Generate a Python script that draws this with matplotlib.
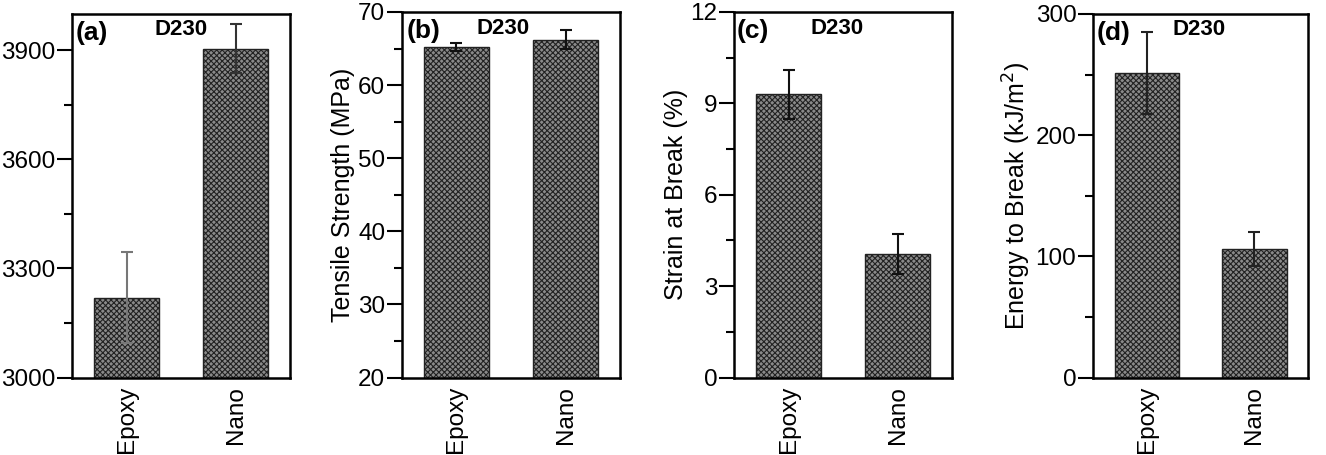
import matplotlib
matplotlib.use("Agg")
import matplotlib.pyplot as plt
from matplotlib.ticker import MultipleLocator

plt.rcParams['font.family'] = ['Liberation Sans', 'DejaVu Sans']
plt.rcParams['hatch.color'] = '#2a2a2a'
plt.rcParams['hatch.linewidth'] = 0.8

categories = ['Epoxy', 'Nano']

modulus = [3220, 3905]
modulus_err = [125, 67]

strength = [65.2, 66.2]
strength_err = [0.6, 1.3]

strain = [9.3, 4.05]
strain_err = [0.8, 0.65]

energy = [251.5, 105.8]
energy_err = [34, 14]

panel_labels = ['(a)', '(b)', '(c)', '(d)']
series_name = 'D230'
ylabels = ['', 'Tensile Strength (MPa)', 'Strain at Break (%)', 'Energy to Break (kJ/m$^2$)']

W, H = 1326, 455
fig = plt.figure(figsize=(W / 100, H / 100), dpi=100)

# (left, right, top, bottom) in pixels
boxes = [(72, 290, 14, 377.5), (402, 620, 12, 377.5), (734, 952, 12, 377.5), (1093, 1308, 14, 377.5)]
ylims = [(3000, 4000), (20, 70), (0, 12), (0, 300)]
majors = [300, 10, 3, 100]
minors = [150, 5, 1.5, 50]
data = [(modulus, modulus_err), (strength, strength_err), (strain, strain_err), (energy, energy_err)]
label_x = [0.018, 0.023, 0.014, 0.019]
name_x = [0.38, 0.344, 0.35, 0.37]
err_colors = [['#777777', '#333333'], ['#111111', '#111111'], ['#111111', '#111111'], ['#222222', '#222222']]

for i in range(4):
    l, r, t, b = boxes[i]
    ax = fig.add_axes([l / W, 1 - b / H, (r - l) / W, (b - t) / H])
    vals, errs = data[i]
    x = range(len(categories))
    ax.bar(x, vals, width=0.6, bottom=0, color='#8a8a8a', edgecolor='#222222',
           linewidth=1.0, hatch='xxxxxx', zorder=2)
    for j in range(len(categories)):
        ax.errorbar(j, vals[j], yerr=errs[j], fmt='none', ecolor=err_colors[i][j],
                    elinewidth=1.5, capsize=4.3, capthick=1.5, zorder=3)
    ax.set_xlim(-0.5, 1.5)
    ax.set_ylim(*ylims[i])
    ax.set_xticks(list(x))
    ax.set_xticklabels(categories, rotation=90, fontsize=17.5)
    ax.yaxis.set_major_locator(MultipleLocator(majors[i]))
    ax.yaxis.set_minor_locator(MultipleLocator(minors[i]))
    ax.tick_params(axis='x', length=0, pad=6)
    ax.tick_params(axis='y', which='major', length=11, width=1.5, labelsize=17.5, pad=1, direction='out')
    ax.tick_params(axis='y', which='minor', length=5.5, width=1.5, direction='out')
    for s in ax.spines.values():
        s.set_linewidth(1.8)
    if ylabels[i]:
        ax.set_ylabel(ylabels[i], fontsize=18, labelpad=2)
    ax.text(label_x[i], 0.948, panel_labels[i], transform=ax.transAxes, fontsize=19,
            fontweight='bold', ha='left', va='center')
    ax.text(name_x[i], 0.956, series_name, transform=ax.transAxes, fontsize=16,
            fontweight='bold', ha='left', va='center')

fig.savefig('out.png', dpi=100)
